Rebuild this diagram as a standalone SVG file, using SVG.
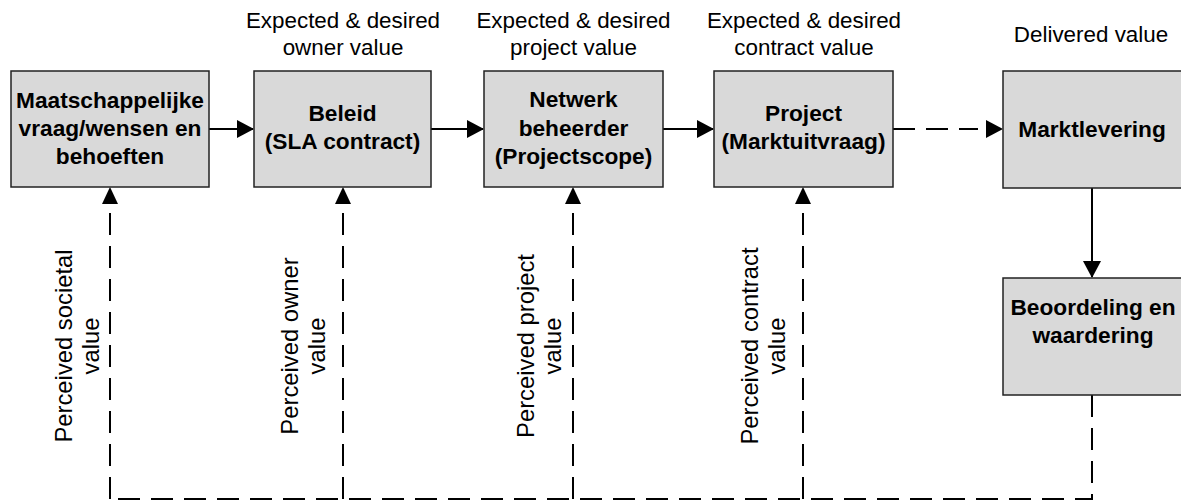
<svg xmlns="http://www.w3.org/2000/svg" width="1181" height="502" viewBox="0 0 1181 502">
  <defs>
    <style>
      .box { fill: #d9d9d9; stroke: #222; stroke-width: 1.5; }
      .bold { font-family: "Liberation Sans", Arial, sans-serif; font-weight: bold; font-size: 22.7px; fill: #000; text-anchor: middle; }
      .lbl { font-family: "Liberation Sans", Arial, sans-serif; font-size: 22.4px; fill: #000; text-anchor: middle; }
      .vlbl { font-family: "Liberation Sans", Arial, sans-serif; font-size: 23.8px; fill: #000; text-anchor: middle; }
      .solid { fill: none; stroke: #000; stroke-width: 2; }
      .dash { fill: none; stroke: #000; stroke-width: 2; stroke-dasharray: 22 11; }
    </style>
    <marker id="head" markerUnits="userSpaceOnUse" markerWidth="17" markerHeight="18" refX="16" refY="9" orient="auto">
      <path d="M0,0 L17,9 L0,18 Z" fill="#000"/>
    </marker>
  </defs>

  <rect width="1181" height="502" fill="#fff"/>

  <!-- value labels above the chain -->
  <g id="labels-top">
    <text class="lbl" x="343" y="28">Expected &amp; desired</text>
    <text class="lbl" x="343" y="55">owner value</text>
    <text class="lbl" x="573.5" y="28">Expected &amp; desired</text>
    <text class="lbl" x="573.5" y="55">project value</text>
    <text class="lbl" x="804" y="28">Expected &amp; desired</text>
    <text class="lbl" x="804" y="55">contract value</text>
    <text class="lbl" x="1091" y="42">Delivered value</text>
  </g>

  <!-- connectors -->
  <g id="connectors">
    <path class="solid" d="M209,129 H253" marker-end="url(#head)"/>
    <path class="solid" d="M431,129 H483" marker-end="url(#head)"/>
    <path class="solid" d="M663,129 H713" marker-end="url(#head)"/>
    <path class="dash" d="M893,129 H978"/>
    <path d="M986,120 L1003,129 L986,138 Z" fill="#000"/>
    <path class="solid" d="M1092,188 V277" marker-end="url(#head)"/>
    <!-- feedback loop -->
    <path class="dash" d="M1092,395 V499 H110"/>
    <path class="dash" d="M110,499 V204"/>
    <path class="dash" d="M343,499 V204"/>
    <path class="dash" d="M573,499 V204"/>
    <path class="dash" d="M803,499 V204"/>
    <path d="M102,204 L110,187 L118,204 Z" fill="#000"/>
    <path d="M335,204 L343,187 L351,204 Z" fill="#000"/>
    <path d="M565,204 L573,187 L581,204 Z" fill="#000"/>
    <path d="M795,204 L803,187 L811,204 Z" fill="#000"/>
  </g>

  <!-- rotated perception labels -->
  <g id="labels-perceived">
    <text class="vlbl" transform="translate(72,346) rotate(-90)"><tspan x="0" y="0">Perceived societal</tspan><tspan x="0" y="27">value</tspan></text>
    <text class="vlbl" transform="translate(298,346) rotate(-90)"><tspan x="0" y="0">Perceived owner</tspan><tspan x="0" y="27">value</tspan></text>
    <text class="vlbl" transform="translate(534,346) rotate(-90)"><tspan x="0" y="0">Perceived project</tspan><tspan x="0" y="27">value</tspan></text>
    <text class="vlbl" transform="translate(758,346) rotate(-90)"><tspan x="0" y="0">Perceived contract</tspan><tspan x="0" y="27">value</tspan></text>
  </g>

  <g id="node-maatschappij">
    <rect class="box" x="11" y="71" width="198" height="116"/>
    <text class="bold" x="110" y="108">Maatschappelijke</text>
    <text class="bold" x="110" y="136">vraag/wensen en</text>
    <text class="bold" x="110" y="164">behoeften</text>
  </g>

  <g id="node-beleid">
    <rect class="box" x="254" y="71" width="177" height="116"/>
    <text class="bold" x="342.5" y="121">Beleid</text>
    <text class="bold" x="342.5" y="149">(SLA contract)</text>
  </g>

  <g id="node-netwerkbeheerder">
    <rect class="box" x="484" y="71" width="179" height="116"/>
    <text class="bold" x="573.5" y="107">Netwerk</text>
    <text class="bold" x="573.5" y="136">beheerder</text>
    <text class="bold" x="573.5" y="164">(Projectscope)</text>
  </g>

  <g id="node-project">
    <rect class="box" x="714" y="71" width="179" height="116"/>
    <text class="bold" x="803.5" y="121">Project</text>
    <text class="bold" x="803.5" y="149">(Marktuitvraag)</text>
  </g>

  <g id="node-marktlevering">
    <rect class="box" x="1003" y="71" width="190" height="117"/>
    <text class="bold" x="1092" y="137">Marktlevering</text>
  </g>

  <g id="node-beoordeling">
    <rect class="box" x="1003" y="278" width="190" height="117"/>
    <text class="bold" x="1093" y="315">Beoordeling en</text>
    <text class="bold" x="1093" y="343">waardering</text>
  </g>
</svg>
